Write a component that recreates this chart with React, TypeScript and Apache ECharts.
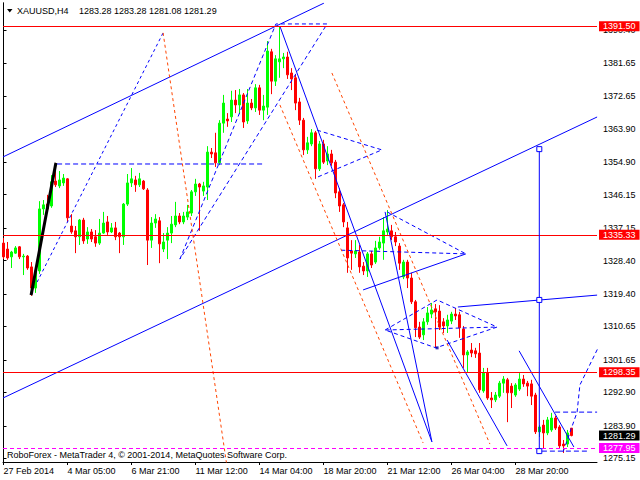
import React, { useEffect, useRef } from "react";
import * as echarts from "echarts";

const symbolName = "XAUUSD,H4";
const footerText = "RoboForex - MetaTrader 4, © 2001-2014, MetaQuotes Software Corp.";
const FONT = "'Liberation Sans', Arial, sans-serif";

// H4 candles (index = bar number)
const candleOpen = [
  1333.1, 1331.5, 1329.4, 1330.4, 1332.1, 1329.4, 1329.6, 1326.7, 1321.0, 1325.6,
  1342.3, 1343.6, 1343.1, 1349.8, 1348.5, 1349.3, 1350.4, 1337.7, 1336.4, 1334.8,
  1339.3, 1334.2, 1336.1, 1334.8, 1333.1, 1335.8, 1338.8, 1336.1, 1337.2, 1335.8,
  1334.8, 1343.6, 1349.3, 1350.1, 1348.8, 1349.8, 1347.4, 1333.9, 1338.5, 1339.1,
  1331.5, 1333.9, 1335.8, 1338.0, 1340.4, 1338.8, 1340.1, 1341.2, 1346.9, 1349.0,
  1347.1, 1348.2, 1357.6, 1357.4, 1354.7, 1365.4, 1366.5, 1367.1, 1371.6, 1370.3,
  1373.0, 1366.0, 1370.8, 1369.5, 1374.9, 1368.9, 1369.7, 1384.6, 1376.7, 1381.9,
  1382.7, 1383.2, 1378.9, 1377.6, 1371.1, 1366.2, 1358.2, 1359.8, 1362.8, 1353.1,
  1359.8, 1355.2, 1357.1, 1354.9, 1346.9, 1343.4, 1337.2, 1331.0, 1330.2, 1330.7,
  1326.9, 1325.6, 1330.2, 1328.0, 1331.8, 1333.1, 1336.1, 1336.4, 1334.8, 1332.3,
  1324.0, 1328.0, 1323.7, 1317.3, 1310.5, 1308.4, 1311.9, 1314.0, 1315.4, 1314.8,
  1311.9, 1310.8, 1312.1, 1314.0, 1313.8, 1310.0, 1303.0, 1304.3, 1304.1, 1303.5,
  1293.3, 1298.1, 1291.4, 1290.9, 1291.9, 1295.4, 1296.3, 1294.6, 1292.2, 1293.8,
  1296.5, 1295.4, 1295.2, 1292.2, 1282.3, 1284.1, 1282.0, 1282.8, 1286.0, 1283.6,
  1279.0, 1279.0, 1283.28,
];
const candleHigh = [
  1334.5, 1333.4, 1331.0, 1332.3, 1332.3, 1330.2, 1329.9, 1328.0, 1326.4, 1344.4,
  1344.7, 1346.1, 1351.4, 1354.7, 1352.5, 1351.7, 1350.6, 1340.9, 1337.7, 1339.6,
  1339.9, 1337.4, 1336.9, 1336.6, 1339.6, 1341.5, 1340.4, 1338.5, 1338.8, 1336.1,
  1343.9, 1351.7, 1353.3, 1351.2, 1352.0, 1350.1, 1347.9, 1340.1, 1340.9, 1340.1,
  1335.8, 1337.4, 1340.4, 1344.2, 1341.2, 1341.5, 1343.4, 1347.4, 1350.4, 1349.3,
  1349.6, 1359.2, 1358.7, 1362.8, 1366.2, 1373.0, 1368.1, 1374.1, 1374.3, 1374.6,
  1373.5, 1374.6, 1371.9, 1375.9, 1375.7, 1373.0, 1387.5, 1385.4, 1383.7, 1391.5,
  1384.3, 1384.6, 1380.2, 1378.4, 1372.2, 1366.8, 1361.7, 1363.8, 1363.3, 1360.6,
  1360.9, 1359.2, 1358.2, 1355.5, 1347.9, 1343.9, 1338.8, 1333.9, 1333.9, 1332.6,
  1328.0, 1330.7, 1331.0, 1333.7, 1334.8, 1340.1, 1342.0, 1338.0, 1336.1, 1333.1,
  1328.6, 1328.6, 1325.1, 1317.8, 1311.9, 1312.9, 1315.9, 1317.0, 1316.7, 1316.4,
  1312.9, 1313.8, 1314.6, 1315.6, 1314.6, 1310.8, 1304.3, 1306.2, 1304.9, 1306.2,
  1299.5, 1299.5, 1293.0, 1293.0, 1296.0, 1297.3, 1296.8, 1295.4, 1295.4, 1298.1,
  1297.6, 1296.0, 1296.3, 1292.8, 1284.1, 1285.5, 1286.3, 1287.4, 1286.6, 1284.1,
  1280.1, 1282.8, 1283.28,
];
const candleLow = [
  1328.8, 1328.6, 1326.4, 1330.2, 1328.8, 1324.5, 1325.9, 1318.9, 1319.7, 1324.8,
  1340.7, 1341.5, 1342.6, 1348.2, 1347.9, 1348.5, 1338.8, 1335.6, 1330.4, 1332.6,
  1332.9, 1332.9, 1333.4, 1332.1, 1332.6, 1335.6, 1335.3, 1335.8, 1333.9, 1330.4,
  1332.6, 1343.1, 1348.2, 1346.9, 1348.2, 1347.4, 1327.2, 1331.8, 1337.2, 1327.7,
  1330.7, 1328.8, 1333.1, 1337.4, 1338.2, 1338.2, 1339.3, 1340.4, 1345.8, 1336.4,
  1345.8, 1344.7, 1356.0, 1353.6, 1354.1, 1362.8, 1364.4, 1365.7, 1368.1, 1367.9,
  1364.1, 1365.2, 1368.9, 1368.4, 1367.6, 1366.2, 1367.6, 1373.2, 1375.4, 1377.6,
  1380.2, 1377.3, 1374.3, 1368.9, 1364.9, 1356.8, 1357.1, 1359.2, 1350.4, 1352.5,
  1354.4, 1354.1, 1353.9, 1345.2, 1341.5, 1337.4, 1325.1, 1325.9, 1329.1, 1325.1,
  1324.5, 1324.0, 1326.4, 1327.5, 1331.3, 1328.6, 1335.3, 1333.9, 1332.3, 1325.9,
  1323.4, 1321.0, 1316.7, 1307.8, 1307.3, 1307.0, 1311.1, 1312.9, 1304.9, 1309.7,
  1308.9, 1308.9, 1311.3, 1312.4, 1307.6, 1299.5, 1298.4, 1302.4, 1302.2, 1292.8,
  1292.8, 1290.9, 1288.7, 1290.3, 1291.4, 1292.8, 1284.9, 1288.7, 1291.7, 1293.3,
  1294.4, 1291.9, 1289.5, 1281.7, 1280.9, 1277.7, 1281.4, 1282.3, 1282.8, 1277.9,
  1276.6, 1278.2, 1281.08,
];
const candleClose = [
  1329.4, 1329.1, 1330.7, 1331.8, 1329.4, 1329.6, 1326.4, 1321.0, 1325.6, 1342.3,
  1343.4, 1342.3, 1349.6, 1348.8, 1350.1, 1350.6, 1339.9, 1336.1, 1334.8, 1339.3,
  1333.7, 1336.1, 1334.2, 1333.1, 1335.8, 1338.5, 1336.1, 1337.2, 1334.8, 1334.8,
  1343.6, 1349.3, 1350.4, 1348.8, 1350.4, 1347.7, 1333.9, 1338.5, 1339.6, 1332.9,
  1333.4, 1335.8, 1338.2, 1340.4, 1338.8, 1340.4, 1341.5, 1346.9, 1349.0, 1348.2,
  1348.5, 1357.6, 1357.1, 1354.7, 1365.4, 1370.8, 1366.0, 1371.6, 1370.3, 1373.0,
  1365.7, 1370.8, 1369.5, 1374.9, 1368.9, 1370.0, 1384.8, 1376.7, 1382.7, 1382.7,
  1383.2, 1378.4, 1377.3, 1370.8, 1366.2, 1358.2, 1360.1, 1362.8, 1353.1, 1359.8,
  1354.9, 1357.1, 1354.7, 1346.6, 1343.1, 1338.8, 1329.1, 1330.4, 1331.0, 1326.7,
  1325.6, 1330.2, 1327.2, 1331.8, 1333.4, 1336.4, 1336.9, 1334.8, 1333.4, 1327.7,
  1328.0, 1323.7, 1317.3, 1310.3, 1307.8, 1311.9, 1314.3, 1315.1, 1314.6, 1310.5,
  1310.8, 1312.4, 1314.0, 1313.5, 1310.3, 1303.0, 1303.8, 1303.5, 1303.3, 1293.6,
  1298.1, 1291.4, 1290.9, 1292.2, 1295.4, 1296.5, 1292.8, 1292.8, 1294.9, 1296.5,
  1295.2, 1294.6, 1291.9, 1282.3, 1283.6, 1282.0, 1285.5, 1286.0, 1283.3, 1278.5,
  1278.5, 1282.0, 1281.29,
];

// time axis
const timeTickIndex = [0, 16, 32, 48, 64, 80, 96, 112, 128];
const timeTickLabels = [
  "27 Feb 2014", "4 Mar 05:00", "6 Mar 21:00", "11 Mar 12:00", "14 Mar 04:00",
  "18 Mar 20:00", "21 Mar 12:00", "26 Mar 04:00", "28 Mar 20:00",
];
const priceTicks = [
  1275.15, 1283.9, 1292.9, 1301.65, 1310.65, 1319.4, 1328.4, 1337.15,
  1346.15, 1354.9, 1363.9, 1372.65, 1381.65, 1390.4,
];

// horizontal levels
const resistanceLevels = [1391.5, 1335.33, 1298.35];
const supportLevel = 1277.95;

// analysis objects: [barIndex, price]
const channelUpper = [[-0.125, 1356.3], [80.1, 1397.7]];
const channelLower = [[-0.125, 1291.4], [148.4, 1367.05]];
const trendFromPeak = [[69.1, 1391.5], [107.1, 1279.6]];
const trendFrom21Mar = [[95.4, 1341.5], [107.1, 1279.6]];
const trendFrom26Mar = [[110.9, 1307.0], [125.9, 1278.5]];
const trendFrom28Mar = [[128.9, 1304.1], [142.6, 1278.2]];
const line1319 = [[113.6, 1315.9], [148.4, 1319.1]];
const verticalRange = [[133.95, 1358.4], [133.95, 1317.8], [133.95, 1277.1]];
const triangle3Lower = [[89.9, 1320.5], [115.6, 1330.2]];
const blackImpulse = [[6.9, 1319.1], [13.1, 1354.7]];

const zigUp = [[8.4, 1322.6], [39.9, 1389.7]];
const rangeTop = [[13.4, 1354.4], [64.9, 1354.4]];
const triangle1 = [[44.1, 1328.8], [68.1, 1392.1], [80.9, 1392.1], [44.1, 1328.8]];
const triangle2 = [[78.4, 1363.5], [94.6, 1358.2], [77.9, 1350.6]];
const triangle3 = [[95.9, 1341.5], [115.6, 1330.2], [84.1, 1331.2]];
const triangle4 = [[95.4, 1309.7], [108.4, 1317.8], [123.4, 1310.5], [108.1, 1304.9], [95.4, 1309.7], [123.4, 1310.5]];
const triangle4Mark = [[108.4, 1304.9]];
const forecastPath = [[139.9, 1276.9], [143.4, 1287.6], [144.1, 1294.9], [149.1, 1305.9]];
const forecastLevel = [[137.9, 1287.6], [148.4, 1287.6]];
const bottomLevel = [[134.6, 1277.1], [145.9, 1277.1]];

const wave1 = [[39.9, 1389.7], [55.8, 1273.5]];
const wave2 = [[69.1, 1370.3], [104.9, 1279.3]];
const wave3 = [[82.1, 1378.9], [121.6, 1279.0]];

const BLUE = "#0000ff";
const ORANGE = "#ff4500";

function lineSeries(data: number[][], color: string, type: any, width = 1, z = 3) {
  return {
    type: "line",
    data,
    symbol: "none",
    showSymbol: false,
    silent: true,
    clip: true,
    lineStyle: { color, width, type },
    z,
  };
}

function priceTag(value: number, bg: string, line: any) {
  return {
    yAxis: value,
    lineStyle: line,
    label: {
      show: true,
      position: "end",
      distance: 2,
      formatter: value.toFixed(2),
      color: "#ffffff",
      backgroundColor: bg,
      padding: [1, 4, 0, 4],
      fontSize: 9,
      fontFamily: FONT,
    },
  };
}

export default function App() {
  const ref = useRef<HTMLDivElement>(null);
  useEffect(() => {
    document.body.style.margin = "0";
    if (!ref.current) return;
    const chart = echarts.init(ref.current, undefined, { renderer: "svg" });
    const last = candleOpen.length - 1;
    const headerValues = [candleOpen[last], candleHigh[last], candleLow[last], candleClose[last]]
      .map((v) => v.toFixed(2))
      .join(" ");

    const option: any = {
      animation: false,
      backgroundColor: "#ffffff",
      textStyle: { fontFamily: FONT },
      grid: { left: 3, right: 43, top: 3, bottom: 18 },
      xAxis: {
        type: "value",
        min: -0.125,
        max: 148.375,
        axisLine: { show: true, lineStyle: { color: "#000", width: 1 } },
        axisTick: { show: true, length: 3, customValues: timeTickIndex, lineStyle: { color: "#000" } },
        axisLabel: {
          show: true,
          customValues: timeTickIndex,
          formatter: (v: number) => {
            const k = timeTickIndex.indexOf(Math.round(v));
            return k >= 0 ? timeTickLabels[k] : "";
          },
          align: "left",
          margin: 4,
          color: "#000",
          fontSize: 9,
          fontFamily: FONT,
        },
        splitLine: { show: false },
      },
      yAxis: [
        {
          type: "value",
          position: "right",
          min: 1274.17,
          max: 1397.74,
          axisLine: { show: true, lineStyle: { color: "#000", width: 1 } },
          axisTick: { show: true, length: 3, customValues: priceTicks, lineStyle: { color: "#000" } },
          axisLabel: {
            show: true,
            customValues: priceTicks,
            formatter: (v: number) => v.toFixed(2),
            margin: 6,
            color: "#000",
            fontSize: 9,
            fontFamily: FONT,
          },
          splitLine: { show: false },
        },
        {
          type: "value",
          position: "left",
          min: 1274.17,
          max: 1397.74,
          axisLine: { show: true, lineStyle: { color: "#000", width: 1 } },
          axisTick: { show: false },
          axisLabel: { show: false },
          splitLine: { show: false },
        },
      ],
      series: [
        {
          type: "candlestick",
          data: candleOpen.map((o, i) => [i, o, candleClose[i], candleLow[i], candleHigh[i]]),
          encode: { x: 0, y: [1, 2, 3, 4] },
          barWidth: 2,
          silent: true,
          z: 2,
          itemStyle: {
            color: "#00ff00",
            color0: "#ff0000",
            borderColor: "#00ff00",
            borderColor0: "#ff0000",
            borderWidth: 1,
          },
          markLine: {
            symbol: ["none", "none"],
            silent: true,
            z: 4,
            data: [
              ...resistanceLevels.map((v) => priceTag(v, "#ff0000", { color: "#ff0000", width: 1, type: "solid" })),
              priceTag(supportLevel, "#ff00ff", { color: "#ff00ff", width: 1, type: [4, 3] }),
              priceTag(candleClose[last], "#000000", { color: "rgba(0,0,0,0)", width: 1, type: "solid" }),
            ],
          },
        },
        lineSeries(channelUpper, BLUE, "solid"),
        lineSeries(channelLower, BLUE, "solid"),
        lineSeries(trendFromPeak, BLUE, "solid"),
        lineSeries(trendFrom21Mar, BLUE, "solid"),
        lineSeries(trendFrom26Mar, BLUE, "solid"),
        lineSeries(trendFrom28Mar, BLUE, "solid"),
        lineSeries(line1319, BLUE, "solid"),
        lineSeries(triangle3Lower, BLUE, "solid"),
        lineSeries(blackImpulse, "#000000", "solid", 3),
        lineSeries(zigUp, BLUE, [3, 3]),
        lineSeries(rangeTop, BLUE, [5, 3]),
        lineSeries(triangle1, BLUE, [4, 3]),
        lineSeries(triangle2, BLUE, [4, 3]),
        lineSeries(triangle3, BLUE, [4, 3]),
        lineSeries(triangle4, BLUE, [4, 3]),
        lineSeries(forecastPath, BLUE, [4, 3]),
        lineSeries(forecastLevel, BLUE, [5, 3]),
        lineSeries(bottomLevel, BLUE, [5, 3]),
        lineSeries(wave1, ORANGE, [3, 3]),
        lineSeries(wave2, ORANGE, [3, 3]),
        lineSeries(wave3, ORANGE, [3, 3]),
        {
          type: "line",
          data: verticalRange,
          symbol: "rect",
          symbolSize: 5,
          showSymbol: true,
          silent: true,
          lineStyle: { color: BLUE, width: 1 },
          itemStyle: { color: "#ffffff", borderColor: BLUE, borderWidth: 1 },
          z: 4,
        },
        {
          type: "scatter",
          data: triangle4Mark,
          symbol: "rect",
          symbolSize: 3,
          silent: true,
          itemStyle: { color: "#0000aa" },
          z: 4,
        },
      ],
      graphic: [
        {
          type: "polygon",
          shape: { points: [[7, 9], [12.5, 9], [9.75, 12.5]] },
          style: { fill: "#000" },
          silent: true,
        },
        {
          type: "text",
          x: 17,
          y: 11,
          style: { text: symbolName, fill: "#000", font: `9px ${FONT}`, verticalAlign: "middle" },
          silent: true,
        },
        {
          type: "text",
          x: 79,
          y: 11,
          style: { text: headerValues, fill: "#000", font: `9px ${FONT}`, verticalAlign: "middle" },
          silent: true,
        },
        {
          type: "text",
          x: 7,
          y: 455,
          style: { text: footerText, fill: "#000", font: `9px ${FONT}`, verticalAlign: "middle" },
          silent: true,
        },
      ],
    };
    chart.setOption(option);
    return () => chart.dispose();
  }, []);
  return <div ref={ref} style={{ width: 640, height: 480 }} />;
}
